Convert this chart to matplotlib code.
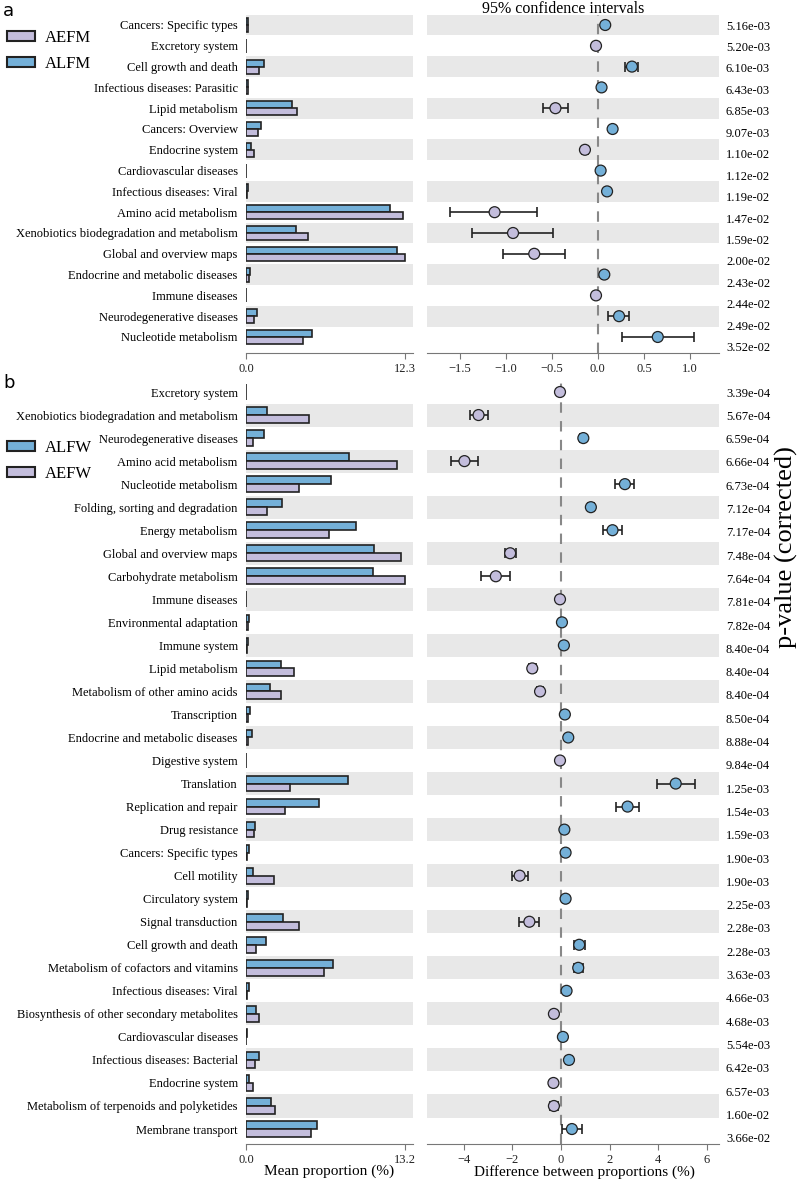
import numpy as np
import matplotlib.pyplot as plt
from matplotlib.patches import Patch

plt.rcParams['font.family'] = ['Liberation Serif', 'DejaVu Serif']

BLUE = '#74b0d8'
PURPLE = '#c3bddc'
BAND = '#e8e8e8'
SPINE = '#777777'

# ---- panel a: ALFM vs AEFM ----
a_labels = ["Cancers: Specific types", "Excretory system", "Cell growth and death",
            "Infectious diseases: Parasitic", "Lipid metabolism", "Cancers: Overview",
            "Endocrine system", "Cardiovascular diseases", "Infectious diseases: Viral",
            "Amino acid metabolism", "Xenobiotics biodegradation and metabolism",
            "Global and overview maps", "Endocrine and metabolic diseases",
            "Immune diseases", "Neurodegenerative diseases", "Nucleotide metabolism"]
a_alfm = [0.18, 0.02, 1.42, 0.15, 3.53, 1.16, 0.41, 0.03, 0.16, 11.14, 3.84, 11.65, 0.31, 0.02, 0.87, 5.13]
a_aefm = [0.17, 0.03, 1.00, 0.12, 3.94, 0.95, 0.60, 0.02, 0.09, 12.15, 4.80, 12.30, 0.23, 0.03, 0.64, 4.43]
a_diff = [0.08, -0.02, 0.37, 0.04, -0.46, 0.16, -0.14, 0.03, 0.10, -1.12, -0.92, -0.69, 0.07, -0.02, 0.23, 0.65]
a_lo = [0.06, -0.03, 0.29, 0.03, -0.59, 0.13, -0.17, 0.02, 0.08, -1.60, -1.36, -1.03, 0.05, -0.03, 0.11, 0.26]
a_hi = [0.10, -0.01, 0.44, 0.05, -0.32, 0.19, -0.11, 0.04, 0.12, -0.66, -0.49, -0.36, 0.09, -0.01, 0.34, 1.04]
a_p = ["5.16e-03", "5.20e-03", "6.10e-03", "6.43e-03", "6.85e-03", "9.07e-03", "1.10e-02",
       "1.12e-02", "1.19e-02", "1.47e-02", "1.59e-02", "2.00e-02", "2.43e-02", "2.44e-02",
       "2.49e-02", "3.52e-02"]

# ---- panel b: ALFW vs AEFW ----
b_labels = ["Excretory system", "Xenobiotics biodegradation and metabolism",
            "Neurodegenerative diseases", "Amino acid metabolism", "Nucleotide metabolism",
            "Folding, sorting and degradation", "Energy metabolism", "Global and overview maps",
            "Carbohydrate metabolism", "Immune diseases", "Environmental adaptation",
            "Immune system", "Lipid metabolism", "Metabolism of other amino acids",
            "Transcription", "Endocrine and metabolic diseases", "Digestive system",
            "Translation", "Replication and repair", "Drug resistance",
            "Cancers: Specific types", "Cell motility", "Circulatory system",
            "Signal transduction", "Cell growth and death",
            "Metabolism of cofactors and vitamins", "Infectious diseases: Viral",
            "Biosynthesis of other secondary metabolites", "Cardiovascular diseases",
            "Infectious diseases: Bacterial", "Endocrine system",
            "Metabolism of terpenoids and polyketides", "Membrane transport"]
b_alfw = [0.02, 1.77, 1.52, 8.55, 7.03, 2.99, 9.10, 10.65, 10.57, 0.03, 0.22, 0.20, 2.88, 2.02,
          0.30, 0.52, 0.02, 8.44, 6.03, 0.77, 0.25, 0.61, 0.20, 3.04, 1.63, 7.25, 0.25, 0.80,
          0.08, 1.10, 0.28, 2.10, 5.89]
b_aefw = [0.02, 5.23, 0.58, 12.56, 4.40, 1.72, 6.89, 12.85, 13.20, 0.03, 0.20, 0.05, 4.01, 2.88,
          0.15, 0.20, 0.02, 3.65, 3.26, 0.64, 0.07, 2.32, 0.06, 4.37, 0.86, 6.50, 0.05, 1.08,
          0.03, 0.77, 0.61, 2.41, 5.39]
b_diff = [-0.04, -3.39, 0.92, -3.97, 2.63, 1.23, 2.12, -2.09, -2.68, -0.04, 0.04, 0.12, -1.18,
          -0.86, 0.16, 0.30, -0.04, 4.72, 2.74, 0.14, 0.19, -1.70, 0.19, -1.30, 0.75, 0.71,
          0.23, -0.29, 0.08, 0.33, -0.31, -0.29, 0.45]
b_lo = [-0.06, -3.76, 0.80, -4.53, 2.24, 1.10, 1.74, -2.32, -3.30, -0.06, 0.02, 0.09, -1.32,
        -1.00, 0.12, 0.24, -0.05, 3.95, 2.28, 0.08, 0.15, -2.02, 0.15, -1.71, 0.53, 0.53,
        0.18, -0.38, 0.06, 0.22, -0.40, -0.45, 0.03]
b_hi = [-0.02, -3.02, 1.05, -3.43, 3.00, 1.36, 2.52, -1.86, -2.09, -0.02, 0.06, 0.15, -1.04,
        -0.72, 0.20, 0.36, -0.03, 5.50, 3.19, 0.20, 0.23, -1.35, 0.23, -0.89, 0.97, 0.89,
        0.28, -0.20, 0.10, 0.44, -0.22, -0.13, 0.85]
b_p = ["3.39e-04", "5.67e-04", "6.59e-04", "6.66e-04", "6.73e-04", "7.12e-04", "7.17e-04",
       "7.48e-04", "7.64e-04", "7.81e-04", "7.82e-04", "8.40e-04", "8.40e-04", "8.40e-04",
       "8.50e-04", "8.88e-04", "9.84e-04", "1.25e-03", "1.54e-03", "1.59e-03", "1.90e-03",
       "1.90e-03", "2.25e-03", "2.28e-03", "2.28e-03", "3.63e-03", "4.66e-03", "4.68e-03",
       "5.54e-03", "6.42e-03", "6.57e-03", "1.60e-02", "3.66e-02"]

W, H = 797, 1180
fig = plt.figure(figsize=(W / 100, H / 100), dpi=100)


def frac(x0, x1, y0, y1):
    return [x0 / W, 1 - y1 / H, (x1 - x0) / W, (y1 - y0) / H]


def style_bottom(ax):
    for s in ("top", "right", "left"):
        ax.spines[s].set_visible(False)
    ax.spines["bottom"].set_color(SPINE)
    ax.tick_params(axis="x", colors=SPINE, labelcolor="#222222", labelsize=9, length=4)
    ax.tick_params(axis="y", length=0)


def draw_panel(y0, y1, labels, grp1, grp2, diff, lo, hi, pvals, xmax, xlim, xticks,
               band_start, ylim_bottom, p_ylim):
    n = len(labels)
    pos = np.arange(n)
    axl = fig.add_axes(frac(246, 413, y0, y1))
    axr = fig.add_axes(frac(427, 719, y0, y1))
    for ax in (axl, axr):
        for i in range(band_start, n, 2):
            ax.axhspan(i - 0.5, i + 0.5, color=BAND, lw=0, zorder=0)
        ax.set_ylim(ylim_bottom, -0.5)
        style_bottom(ax)

    # mean proportion bars
    h = 0.34
    axl.barh(pos - h / 2, grp1, height=h, color=BLUE, edgecolor="#222222", lw=1.2, zorder=2)
    axl.barh(pos + h / 2, grp2, height=h, color=PURPLE, edgecolor="#222222", lw=1.2, zorder=2)
    axl.set_xlim(0, xmax * 167 / 159)
    axl.set_xticks([0, xmax])
    axl.set_xticklabels(["0.0", f"{xmax:.1f}"])
    axl.set_yticks(pos)
    axl.set_yticklabels(labels, fontsize=9)
    axl.tick_params(axis="y", pad=6)

    # difference with 95% CI
    diff = np.array(diff)
    cols = [BLUE if d > 0 else PURPLE for d in diff]
    axr.axvline(0, color="#888888", ls=(0, (5, 4)), lw=1.5, zorder=1)
    axr.errorbar(diff, pos, xerr=[diff - np.array(lo), np.array(hi) - diff], fmt="none",
                 ecolor="#222222", elinewidth=1.2, capsize=3.5, capthick=1.2, zorder=3)
    axr.scatter(diff, pos, s=62, c=cols, edgecolors="#222222", linewidths=0.9, zorder=4)
    axr.set_xlim(*xlim)
    axr.set_xticks(xticks)
    axr.set_yticks([])

    axp = axr.twinx()
    axp.set_ylim(*p_ylim)
    axp.set_yticks(pos)
    axp.set_yticklabels(pvals, fontsize=9)
    axp.tick_params(axis="y", length=0, pad=5)
    for s in axp.spines.values():
        s.set_visible(False)
    return axl, axr


axl_a, axr_a = draw_panel(14.6, 353, a_labels, a_alfm, a_aefm, a_diff, a_lo, a_hi, a_p,
                          12.3, (-1.853, 1.314), [-1.5, -1.0, -0.5, 0.0, 0.5, 1.0],
                          0, 15.77, (15.29, -0.486))
axl_b, axr_b = draw_panel(380.5, 1144, b_labels, b_alfw, b_aefw, b_diff, b_lo, b_hi, b_p,
                          13.2, (-5.51, 6.50), [-4, -2, 0, 2, 4, 6],
                          1, 32.65, (32.27, -0.494))

axl_b.set_xlabel("Mean proportion (%)", fontsize=11)
axr_b.set_xlabel("Difference between proportions (%)", fontsize=11)
axl_b.xaxis.set_label_coords(0.5, -0.027)
axr_b.xaxis.set_label_coords(0.538, -0.027)

fig.text(563 / W, 1 - 9 / H, "95% confidence intervals", ha="center", va="center", fontsize=11.5)
fig.text(786 / W, 1 - 547 / H, "p-value (corrected)", rotation=90, ha="center", va="center",
         fontsize=19)
fig.text(3 / W, 1 - 11 / H, "a", family="DejaVu Sans", fontsize=13, va="center")
fig.text(3 / W, 1 - 383 / H, "b", family="DejaVu Sans", fontsize=13, va="center")

leg_kw = dict(frameon=False, fontsize=12, handlelength=1.7, handleheight=0.6,
              labelspacing=0.6, handletextpad=0.6, borderpad=0, borderaxespad=0,
              loc="upper left")
fig.legend(handles=[Patch(facecolor=PURPLE, edgecolor="#222222", lw=1.5, label="AEFM"),
                    Patch(facecolor=BLUE, edgecolor="#222222", lw=1.5, label="ALFM")],
           bbox_to_anchor=(7 / W, 1 - 30 / H), **leg_kw)
fig.legend(handles=[Patch(facecolor=BLUE, edgecolor="#222222", lw=1.5, label="ALFW"),
                    Patch(facecolor=PURPLE, edgecolor="#222222", lw=1.5, label="AEFW")],
           bbox_to_anchor=(7 / W, 1 - 440 / H), **leg_kw)

fig.savefig("out.png", dpi=100)
